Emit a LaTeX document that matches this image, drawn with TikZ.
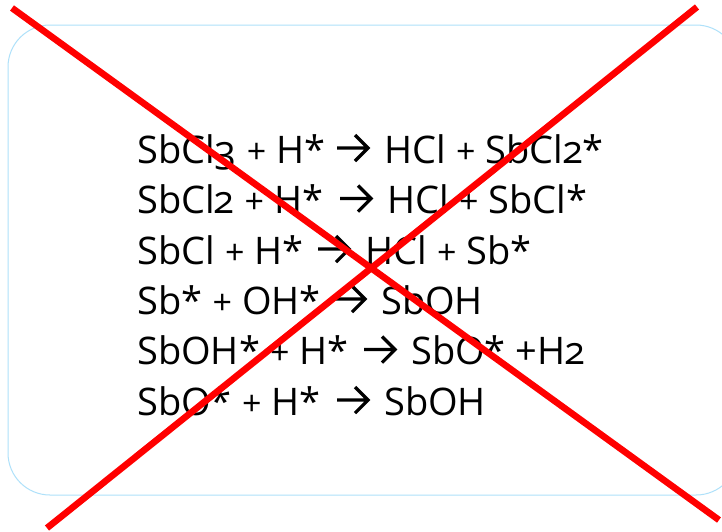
\documentclass[tikz,border=0pt]{standalone}
\usepackage{fontspec}
\setmainfont{Open Sans}[Numbers=OldStyle]
\tikzset{eqline/.style={anchor=base west,inner sep=0pt,font=\fontsize{38pt}{40pt}\selectfont},
 cross/.style={draw={rgb,255:red,255;green,0;blue,0},line width=6.6pt},
 react/.style={draw=black,line width=3.2pt,miter limit=10}}
\newcommand{\pl}{\hspace{0.27em}{\fontsize{34pt}{36pt}\selectfont +}\hspace{0.27em}}
\begin{document}
\begin{tikzpicture}[x=1pt,y=-1pt]
\useasboundingbox (0,0) rectangle (722,531);
\fill[white] (0,0) rectangle (722,531);
\draw[draw={rgb,255:red,175;green,225;blue,250},line width=1pt,rounded corners=42pt] (8,25) rectangle (738,495);
\node[eqline] (a) at (137,163) {SbCl3\pl H*};
\node[eqline] (a2) at (384,163) {HCl\pl SbCl2*};
\node[eqline] (b) at (137,213.5) {SbCl2\pl H*};
\node[eqline] (b2) at (387,213.5) {HCl\pl SbCl*};
\node[eqline] (c) at (137,264) {SbCl\pl H*};
\node[eqline] (c2) at (365,264) {HCl\pl Sb*};
\node[eqline] (d) at (137,314) {Sb*\pl OH*};
\node[eqline] (d2) at (381,314) {SbOH};
\node[eqline] (e) at (137,364.5) {SbOH*\pl H*};
\node[eqline] (e2) at (411,364.5) {SbO* +H2};
\node[eqline] (f) at (137,415) {SbO*\pl H*};
\node[eqline] (f2) at (384,415) {SbOH};
\coordinate (as) at (337,148); \coordinate (ae) at (368,148);
\coordinate (bs) at (340,198.5); \coordinate (be) at (371,198.5);
\coordinate (cs) at (318,249); \coordinate (ce) at (349,249);
\coordinate (ds) at (334,299); \coordinate (de) at (365,299);
\coordinate (es) at (364,349.5); \coordinate (ee) at (395,349.5);
\coordinate (fs) at (337,400); \coordinate (fe) at (368,400);
\draw[react] (as) -- (ae) (ae) +(-13,-13) -- (ae) -- +(-13,13);
\draw[react] (bs) -- (be) (be) +(-13,-13) -- (be) -- +(-13,13);
\draw[react] (cs) -- (ce) (ce) +(-13,-13) -- (ce) -- +(-13,13);
\draw[react] (ds) -- (de) (de) +(-13,-13) -- (de) -- +(-13,13);
\draw[react] (es) -- (ee) (ee) +(-13,-13) -- (ee) -- +(-13,13);
\draw[react] (fs) -- (fe) (fe) +(-13,-13) -- (fe) -- +(-13,13);
\coordinate (p1) at (12,8);
\coordinate (p2) at (719,520);
\coordinate (p3) at (697,7);
\coordinate (p4) at (47,528);
\draw[cross] (p1) -- (p2);
\draw[cross] (p3) -- (p4);
\end{tikzpicture}
\end{document}
